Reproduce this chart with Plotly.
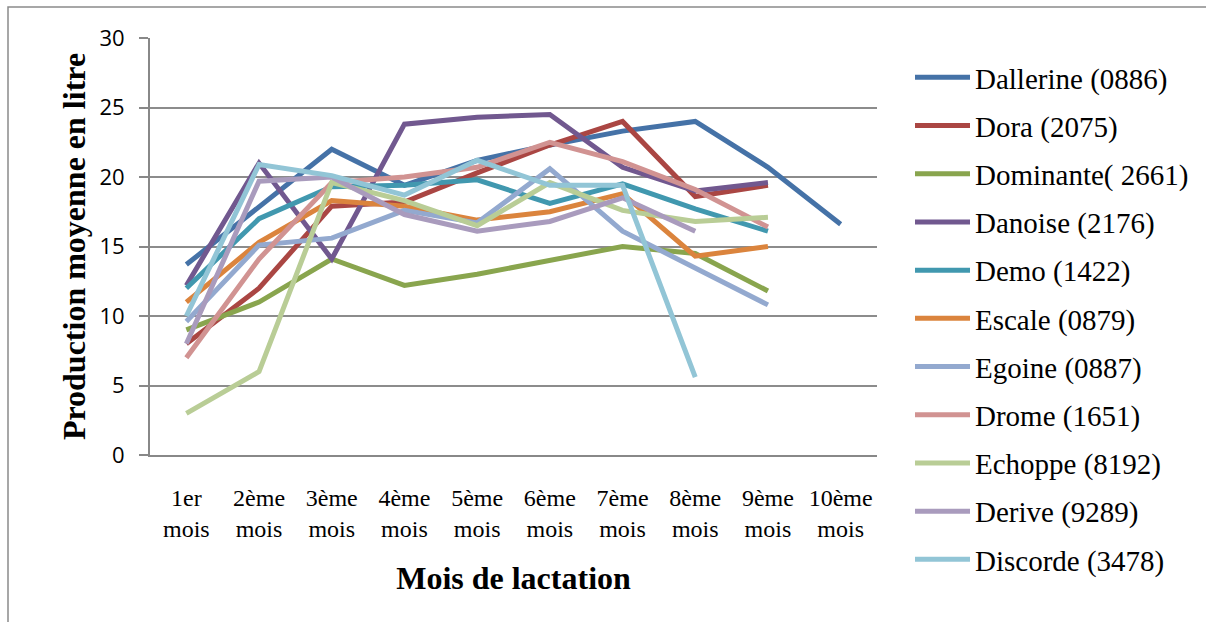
import plotly.graph_objects as go

months = ["1er<br>mois", "2ème<br>mois", "3ème<br>mois", "4ème<br>mois", "5ème<br>mois",
          "6ème<br>mois", "7ème<br>mois", "8ème<br>mois", "9ème<br>mois", "10ème<br>mois"]

dallerine = [13.7, 17.9, 22.0, 19.4, 21.2, 22.3, 23.3, 24.0, 20.7, 16.6]
dora = [8.0, 12.0, 17.9, 18.2, 20.3, 22.3, 24.0, 18.6, 19.4, None]
dominante = [9.0, 11.0, 14.1, 12.2, 13.0, 14.0, 15.0, 14.5, 11.8, None]
danoise = [12.2, 21.0, 14.1, 23.8, 24.3, 24.5, 20.7, 19.0, 19.6, None]
demo = [12.0, 17.0, 19.3, 19.4, 19.8, 18.1, 19.5, 17.7, 16.1, None]
escale = [11.0, 15.3, 18.3, 17.9, 16.9, 17.5, 18.8, 14.3, 15.0, None]
egoine = [9.6, 15.1, 15.6, 17.6, 16.7, 20.6, 16.1, 13.5, 10.8, None]
drome = [7.0, 14.1, 19.6, 20.0, 20.7, 22.5, 21.1, 19.1, 16.4, None]
echoppe = [3.0, 6.0, 19.6, 18.3, 16.5, 19.6, 17.6, 16.8, 17.1, None]
derive = [8.0, 19.7, 20.0, 17.3, 16.1, 16.8, 18.5, 16.1, None, None]
discorde = [10.0, 20.9, 20.1, 18.7, 21.2, 19.4, 19.4, 5.6, None, None]

names = ["Dallerine (0886)", "Dora (2075)", "Dominante( 2661)", "Danoise (2176)",
         "Demo (1422)", "Escale (0879)", "Egoine (0887)", "Drome (1651)",
         "Echoppe (8192)", "Derive (9289)", "Discorde (3478)"]
series = [dallerine, dora, dominante, danoise, demo, escale, egoine, drome,
          echoppe, derive, discorde]
colors = ["#4572A7", "#AA4643", "#89A54E", "#71588F", "#4198AF", "#DB843D",
          "#93A9CF", "#D19392", "#B9CD96", "#A99BBD", "#92C5D6"]

fig = go.Figure()
for n, s, c in zip(names, series, colors):
    fig.add_trace(go.Scatter(x=months, y=s, name=n, mode="lines",
                             line=dict(color=c, width=5), legendgroup=n,
                             connectgaps=False))

L, R, T, B = 150, 329, 38, 167
W, H = 1206, 622
pw, ph = W - L - R, H - T - B

fig.update_layout(
    width=W, height=H,
    margin=dict(l=L, r=R, t=T, b=B, autoexpand=False),
    paper_bgcolor="white", plot_bgcolor="white",
    font=dict(family="Liberation Serif", color="#000000"),
    legend=dict(x=(910 - L) / pw, y=(H - B - 52) / ph, xanchor="left", yanchor="top",
                font=dict(family="Liberation Serif", size=29, color="#000"),
                tracegroupgap=7.5, itemwidth=55, bgcolor="rgba(0,0,0,0)",
                maxheight=600),
    xaxis=dict(type="category", range=[-0.5, 9.5], showgrid=False,
               showline=True, linecolor="#888888", linewidth=2,
               ticks="", ticklabelstandoff=20,
               tickfont=dict(family="Liberation Serif", size=24, color="#000"),
               title=dict(text="<b>Mois de lactation</b>",
                          font=dict(family="Liberation Serif", size=32, color="#000"),
                          standoff=26)),
    yaxis=dict(range=[0, 30], dtick=5, showgrid=True, gridcolor="#8c8c8c", gridwidth=1.5,
               showline=True, linecolor="#888888", linewidth=2,
               ticks="outside", ticklen=9, tickcolor="#888888", tickwidth=2,
               ticklabelstandoff=10,
               tickfont=dict(family="Open Sans", size=22, color="#000"),
               zeroline=False,
               title=dict(text="<b>Production moyenne en litre</b>",
                          font=dict(family="Liberation Serif", size=32, color="#000"),
                          standoff=4)),
    showlegend=True,
)

# outer chart frame
fig.add_shape(type="rect", xref="paper", yref="paper",
              x0=(8 - L) / pw, x1=(W + 5 - L) / pw,
              y0=(H - B - (H + 5)) / ph, y1=(H - B - 7) / ph,
              line=dict(color="#8a8a8a", width=1.5), fillcolor="rgba(0,0,0,0)",
              layer="below")

fig.write_html("out.html")
